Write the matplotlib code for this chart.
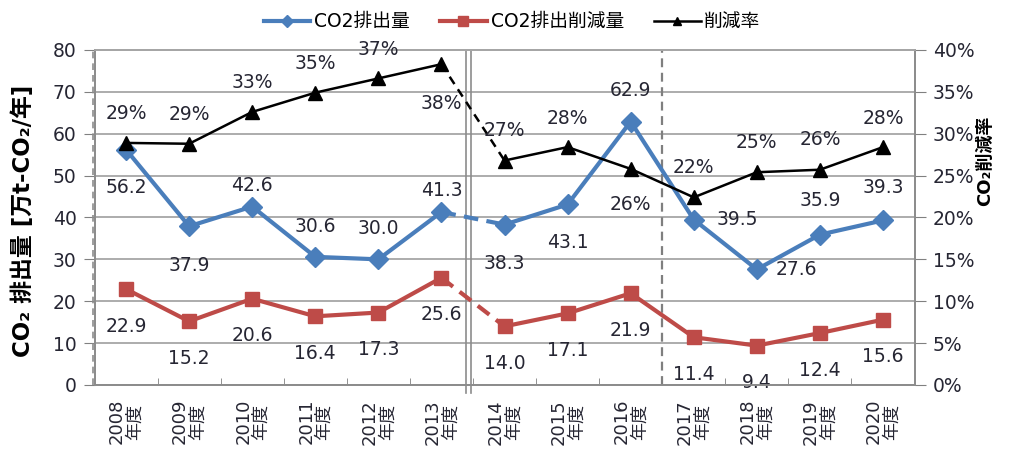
import matplotlib
matplotlib.use("Agg")
import matplotlib.pyplot as plt
from matplotlib.lines import Line2D
from matplotlib.ticker import PercentFormatter, MultipleLocator

plt.rcParams['font.family'] = ['DejaVu Sans', 'Noto Sans CJK JP']

# ---------------- DATA ----------------
years = ["2008", "2009", "2010", "2011", "2012", "2013", "2014",
         "2015", "2016", "2017", "2018", "2019", "2020"]
emission = [56.2, 37.9, 42.6, 30.6, 30.0, 41.3, 38.3, 43.1, 62.9, 39.5, 27.6, 35.9, 39.3]
reduction = [22.9, 15.2, 20.6, 16.4, 17.3, 25.6, 14.0, 17.1, 21.9, 11.4, 9.4, 12.4, 15.6]
rate = [0.289, 0.288, 0.326, 0.349, 0.366, 0.383, 0.268, 0.284, 0.258, 0.224, 0.254, 0.257, 0.284]
rate_labels = ["29%", "29%", "33%", "35%", "37%", "38%", "27%",
               "28%", "26%", "22%", "25%", "26%", "28%"]

# ---------------- STYLE ----------------
BLUE = "#4A7EBB"
RED = "#BE4B48"
BLACK = "#000000"
TXT = "#262633"
GRID = "#A6A6A6"
FS_LBL = 13.5   # data labels
FS_TICK = 13.5
FS_XT = 13

# label offsets in pixels (dx, dy)
emis_off = [(0, -38), (0, -39), (0, 21), (0, 30), (0, 31), (0, 22), (0, -39),
            (0, -38), (0, 31), (44, 0), (40, 0), (0, 34), (0, 33)]
red_off = [(0, -37)] * 13
rate_off = [(0, 29)] * 5 + [(0, -39), (0, 30), (0, 29), (0, -36),
                            (0, 30), (0, 30), (0, 30), (0, 29)]

x = list(range(len(years)))
BREAK = 5  # dashed segment between 2013 and 2014

fig = plt.figure(figsize=(10.14, 4.54), dpi=100)
ax = fig.add_axes([0.0932, 0.152, 0.8087, 0.738])
ax2 = ax.twinx()


def draw_series(axis, ys, color, marker, ms, lw, dash):
    axis.plot(x[:BREAK + 1], ys[:BREAK + 1], color=color, lw=lw, marker=marker,
              ms=ms, solid_joinstyle="round", zorder=3)
    axis.plot(x[BREAK + 1:], ys[BREAK + 1:], color=color, lw=lw, marker=marker,
              ms=ms, solid_joinstyle="round", zorder=3)
    axis.plot(x[BREAK:BREAK + 2], ys[BREAK:BREAK + 2], color=color, lw=lw,
              ls=(0, dash), zorder=2)


draw_series(ax, emission, BLUE, "D", 10, 3, (3.5, 2))
draw_series(ax, reduction, RED, "s", 10, 3, (3.5, 2))
draw_series(ax2, rate, BLACK, "^", 10, 1.8, (3.5, 2.5))

for i in x:
    ax.annotate(f"{emission[i]:.1f}", (i, emission[i]), xytext=emis_off[i],
                textcoords="offset pixels", ha="center", va="center",
                fontsize=FS_LBL, color=TXT, zorder=5)
    ax.annotate(f"{reduction[i]:.1f}", (i, reduction[i]), xytext=red_off[i],
                textcoords="offset pixels", ha="center", va="center",
                fontsize=FS_LBL, color=TXT, zorder=5)
    ax2.annotate(rate_labels[i], (i, rate[i]), xytext=rate_off[i],
                 textcoords="offset pixels", ha="center", va="center",
                 fontsize=FS_LBL, color=TXT, zorder=5)

# axes ranges / ticks
ax.set_xlim(-0.5, len(years) - 0.5)
ax.set_ylim(0, 80)
ax2.set_ylim(0, 0.4)
ax.yaxis.set_major_locator(MultipleLocator(10))
ax2.yaxis.set_major_locator(MultipleLocator(0.05))
ax2.yaxis.set_major_formatter(PercentFormatter(1.0, decimals=0))

ax.set_xticks(x)
ax.set_xticklabels([f"{y}\n年度" for y in years], rotation=90, fontsize=FS_XT,
                   color=TXT, linespacing=1.0)
ax.set_xticks([i + 0.5 for i in x[:-1]], minor=True)
ax.tick_params(axis="x", which="major", length=0, pad=10)
ax.tick_params(axis="x", which="minor", length=5, direction="in", color="#808080")
ax.tick_params(axis="y", length=8, color="#808080", labelsize=FS_TICK, labelcolor=TXT, pad=5)
ax2.tick_params(axis="y", length=8, color="#808080", labelsize=FS_TICK, labelcolor=TXT, pad=5)

ax.grid(axis="y", color=GRID, lw=1.3)
ax.set_axisbelow(True)
for a in (ax, ax2):
    for s in a.spines.values():
        s.set_color("#8C8C8C")
        s.set_linewidth(1.3)
    a.spines["top"].set_color(GRID)

# separators
ax.plot([-0.53, -0.53], [0, 80], color="#8C8C8C", lw=1.2, ls=(0, (4, 3)),
        clip_on=False, zorder=1)
for xs in (5.39, 5.47):
    ax.plot([xs, xs], [-1.8, 80], color="#8C8C8C", lw=1.2, clip_on=False, zorder=1)
ax.axvline(8.5, color="#7F7F7F", lw=1.6, ls=(0, (4, 2.5)), zorder=1)

# axis labels
ax.set_ylabel("CO₂ 排出量 [万t-CO₂/年]", fontsize=16.5, fontweight="bold", color=BLACK)
ax.yaxis.set_label_coords(-0.073, 0.49)
ax2.set_ylabel("CO₂削減率", fontsize=13, fontweight="bold", color=BLACK, rotation=90)
ax2.yaxis.set_label_coords(1.075, 0.67)

# legend
handles = [
    Line2D([], [], color=BLUE, lw=3, marker="D", ms=6),
    Line2D([], [], color=RED, lw=3, marker="s", ms=7),
    Line2D([], [], color=BLACK, lw=1.8, marker="^", ms=6),
]
fig.legend(handles, ["CO2排出量", "CO2排出削減量", "削減率"], loc="upper center",
           bbox_to_anchor=(0.505, 1.01), ncol=3, frameon=False, fontsize=13.5,
           handlelength=2.5, handletextpad=0.2, columnspacing=1.6)

fig.savefig("out.png", dpi=100)
